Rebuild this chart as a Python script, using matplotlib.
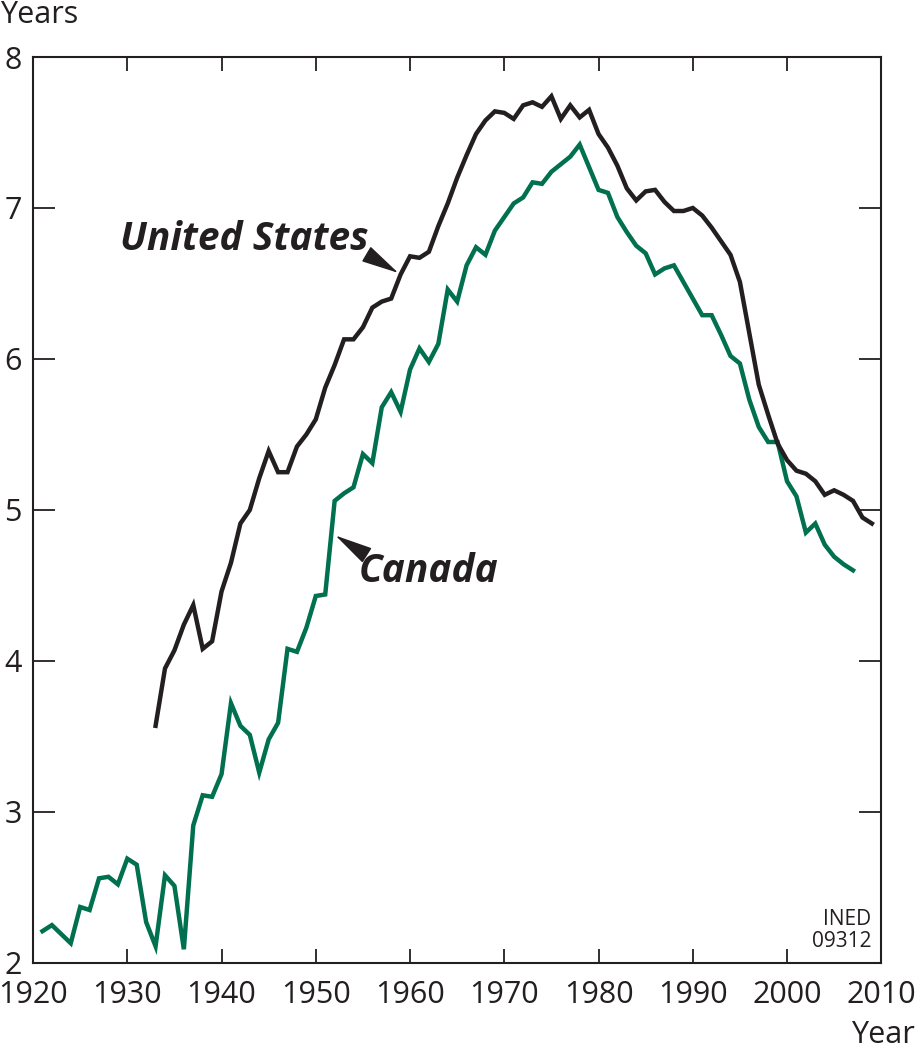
import matplotlib
matplotlib.use("Agg")
import matplotlib.pyplot as plt

plt.rcParams['font.family'] = ['Open Sans', 'DejaVu Sans']

# Canada, 1921-2007
canada_years = list(range(1921, 2008))
canada = [2.21, 2.25, 2.19, 2.13, 2.37, 2.35, 2.56, 2.57, 2.52, 2.69,
          2.65, 2.27, 2.11, 2.58, 2.51, 2.09, 2.91, 3.11, 3.10, 3.25,
          3.72, 3.57, 3.51, 3.26, 3.48, 3.59, 4.08, 4.06, 4.22, 4.43,
          4.44, 5.06, 5.11, 5.15, 5.37, 5.31, 5.68, 5.78, 5.65, 5.93,
          6.07, 5.98, 6.10, 6.46, 6.38, 6.62, 6.74, 6.69, 6.85, 6.94,
          7.03, 7.07, 7.17, 7.16, 7.24, 7.29, 7.34, 7.42, 7.27, 7.12,
          7.10, 6.94, 6.84, 6.75, 6.70, 6.56, 6.60, 6.62, 6.51, 6.40,
          6.29, 6.29, 6.16, 6.02, 5.97, 5.73, 5.55, 5.45, 5.45, 5.19,
          5.09, 4.85, 4.91, 4.77, 4.69, 4.64, 4.60]

# United States, 1933-2009
us_years = list(range(1933, 2010))
us = [3.57, 3.95, 4.07, 4.24, 4.37, 4.08, 4.13, 4.46, 4.65, 4.91,
      5.00, 5.21, 5.39, 5.25, 5.25, 5.42, 5.50, 5.60, 5.81, 5.96,
      6.13, 6.13, 6.21, 6.34, 6.38, 6.40, 6.56, 6.68, 6.67, 6.71,
      6.88, 7.03, 7.20, 7.35, 7.49, 7.58, 7.64, 7.63, 7.59, 7.68,
      7.70, 7.67, 7.74, 7.59, 7.68, 7.60, 7.65, 7.49, 7.40, 7.28,
      7.13, 7.05, 7.11, 7.12, 7.04, 6.98, 6.98, 7.00, 6.95, 6.87,
      6.78, 6.69, 6.51, 6.17, 5.83, 5.63, 5.44, 5.33, 5.26, 5.24,
      5.19, 5.10, 5.13, 5.10, 5.06, 4.95, 4.91]

xticks = [1920, 1930, 1940, 1950, 1960, 1970, 1980, 1990, 2000, 2010]
yticks = [2, 3, 4, 5, 6, 7, 8]

green = '#00704f'
black = '#231f20'

fig = plt.figure(figsize=(9.18, 10.5), dpi=100)
ax = fig.add_axes([0.036, 0.083, 0.924, 0.8627])

ax.plot(canada_years, canada, color=green, lw=3.2, solid_joinstyle='miter')
ax.plot(us_years, us, color=black, lw=3.2, solid_joinstyle='miter')

ax.set_xlim(1920, 2010)
ax.set_ylim(2, 8)
ax.set_xticks(xticks)
ax.set_yticks(yticks)
ax.tick_params(axis='both', direction='in', top=True, right=True,
               labelsize=22, colors=black, width=1.3)
ax.tick_params(axis='x', length=10, pad=12)
ax.tick_params(axis='y', length=16, pad=8)
for s in ax.spines.values():
    s.set_linewidth(1.5)
    s.set_color(black)

fig.text(0.0, 1.0, "Years", ha='left', va='top', fontsize=22, color=black)
fig.text(0.997, 0.0, "Year", ha='right', va='bottom', fontsize=22, color=black)

# labels with wedge-like arrows
head = '-|>,head_length=2.4,head_width=0.55'
ax.text(1929.2, 6.79, "United States", fontsize=28, fontweight='bold',
        fontstyle='italic', color=black, ha='left', va='center')
ax.annotate("", xy=(1958.75, 6.57), xytext=(1955.5, 6.69),
            arrowprops=dict(arrowstyle=head, color=black, lw=1.0,
                            shrinkA=0, shrinkB=0))
ax.text(1954.5, 4.59, "Canada", fontsize=28, fontweight='bold',
        fontstyle='italic', color=black, ha='left', va='center')
ax.annotate("", xy=(1952.1, 4.83), xytext=(1954.9, 4.72),
            arrowprops=dict(arrowstyle=head, color=black, lw=1.0,
                            shrinkA=0, shrinkB=0))

ax.text(0.988, 0.012, "INED\n09312", transform=ax.transAxes, ha='right',
        va='bottom', fontsize=15, color=black, linespacing=1.05,
        family=['Liberation Sans Narrow', 'Open Sans', 'DejaVu Sans'])

fig.savefig("out.png", dpi=100)
